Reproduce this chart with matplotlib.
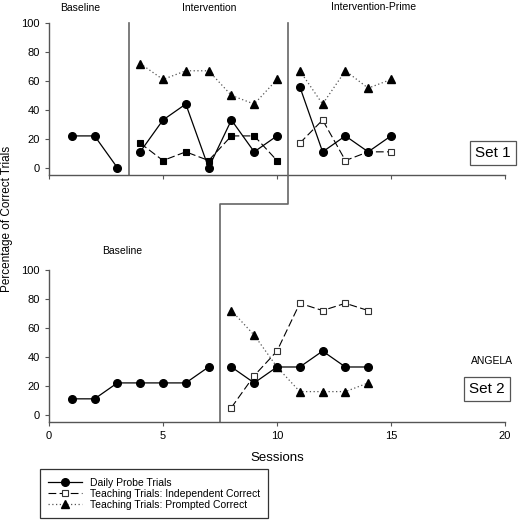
import matplotlib
matplotlib.use("Agg")
import matplotlib.pyplot as plt
from matplotlib.lines import Line2D

plt.rcParams['font.family'] = ['Liberation Sans', 'DejaVu Sans']

# Set 1
s1_base_x = [1, 2, 3]
s1_base_probe = [22, 22, 0]
s1_int_x = [4, 5, 6, 7, 8, 9, 10]
s1_int_probe = [11, 33, 44, 0, 33, 11, 22]
s1_int_indep = [17, 5, 11, 5, 22, 22, 5]
s1_int_prompt = [72, 61, 67, 67, 50, 44, 61]
s1_prime_x = [11, 12, 13, 14, 15]
s1_prime_probe = [56, 11, 22, 11, 22]
s1_prime_indep = [17, 33, 5, 11, 11]
s1_prime_prompt = [67, 44, 67, 55, 61]

# Set 2
s2_base_x = [1, 2, 3, 4, 5, 6, 7]
s2_base_probe = [11, 11, 22, 22, 22, 22, 33]
s2_int_x = [8, 9, 10, 11, 12, 13, 14]
s2_int_probe = [33, 22, 33, 33, 44, 33, 33]
s2_int_indep = [5, 27, 44, 77, 72, 77, 72]
s2_int_prompt = [72, 55, 33, 16, 16, 16, 22]

W = H = 520
fig = plt.figure(figsize=(5.2, 5.2), dpi=100)


def fx(px):
    return px / W


def fy(py):
    return 1 - py / H


ax1 = fig.add_axes([fx(49), fy(175), fx(456), 152 / H])
ax2 = fig.add_axes([fx(49), fy(422), fx(456), 152 / H])

grey = '#555555'
probe_kw = dict(color='black', lw=0.9, ls='-', marker='o', ms=5.5, mfc='black', mec='black', zorder=4)
indep_kw = dict(color='black', lw=0.8, ls=(0, (7, 3)), marker='s', ms=4.5, mfc='white', mec='#333333', mew=0.8, zorder=3)
prompt_kw = dict(color='#555555', lw=0.9, ls=(0, (1, 2)), marker='^', ms=5.5, mfc='black', mec='black', zorder=2)

for ax in (ax1, ax2):
    ax.set_xlim(0, 20)
    ax.set_ylim(-5, 100)
    ax.set_xticks([0, 5, 10, 15, 20])
    ax.set_yticks([0, 20, 40, 60, 80, 100])
    for side in ('top', 'right'):
        ax.spines[side].set_visible(False)
    for side in ('left', 'bottom'):
        ax.spines[side].set_color(grey)
        ax.spines[side].set_linewidth(1.0)
    ax.tick_params(colors=grey, labelcolor='black', labelsize=8, length=3, width=0.8)
    ax.patch.set_alpha(0)

ax1.set_xticklabels([])

# Set 1 series
ax1.plot(s1_base_x, s1_base_probe, **probe_kw)
ax1.plot(s1_int_x, s1_int_prompt, **prompt_kw)
ax1.plot(s1_int_x, s1_int_indep, **dict(indep_kw, mfc='black', mec='black', ms=5))
ax1.plot(s1_int_x, s1_int_probe, **probe_kw)
ax1.plot(s1_prime_x, s1_prime_prompt, **prompt_kw)
ax1.plot(s1_prime_x, s1_prime_indep, **indep_kw)
ax1.plot(s1_prime_x, s1_prime_probe, **probe_kw)

# Set 2 series
ax2.plot(s2_base_x, s2_base_probe, **probe_kw)
ax2.plot(s2_int_x, s2_int_prompt, **prompt_kw)
ax2.plot(s2_int_x, s2_int_indep, **indep_kw)
ax2.plot(s2_int_x, s2_int_probe, **probe_kw)

# phase change lines
phase_kw = dict(color='#666666', lw=1.2, clip_on=False, zorder=1)
ax1.plot([3.5, 3.5], [-5, 100], **phase_kw)
top_y = ax2.transData.inverted().transform(ax1.transData.transform((10.5, 100)))[1]
step_y = ax2.transData.inverted().transform((0, fig.transFigure.transform((0, fy(204)))[1]))[1]
ax2.plot([10.5, 10.5, 7.5, 7.5], [top_y, step_y, step_y, -5], **phase_kw)

# labels
txt = dict(fontsize=7.5, ha='center', va='center')
fig.text(fx(80), fy(8), 'Baseline', **txt)
fig.text(fx(209), fy(8), 'Intervention', **txt)
fig.text(fx(374), fy(7), 'Intervention-Prime', **txt)
fig.text(fx(122), fy(251), 'Baseline', **txt)
fig.text(fx(492), fy(361), 'ANGELA', **txt)

box = dict(boxstyle='square,pad=0.35', fc='white', ec=grey, lw=0.9)
fig.text(fx(493), fy(153), 'Set 1', fontsize=11, ha='center', va='center', bbox=box)
fig.text(fx(487), fy(389), 'Set 2', fontsize=11, ha='center', va='center', bbox=box)

fig.text(fx(7), fy(219), 'Percentage of Correct Trials', fontsize=8.5, rotation=90,
         ha='center', va='center')
fig.text(fx(277), fy(458), 'Sessions', fontsize=9.5, ha='center', va='center')

handles = [
    Line2D([], [], **dict(probe_kw, zorder=None)),
    Line2D([], [], **dict(indep_kw, zorder=None)),
    Line2D([], [], **dict(prompt_kw, zorder=None)),
]
labels = ['Daily Probe Trials', 'Teaching Trials: Independent Correct',
          'Teaching Trials: Prompted Correct']
leg = fig.legend(handles, labels, loc='lower left', bbox_to_anchor=(fx(40), fy(518)),
                 fontsize=7.5, frameon=True, fancybox=False, handlelength=3.2,
                 borderpad=0.8, labelspacing=0.1, handletextpad=0.8, borderaxespad=0)
leg.get_frame().set_edgecolor('black')
leg.get_frame().set_linewidth(0.9)

fig.savefig('out.png', dpi=100)
